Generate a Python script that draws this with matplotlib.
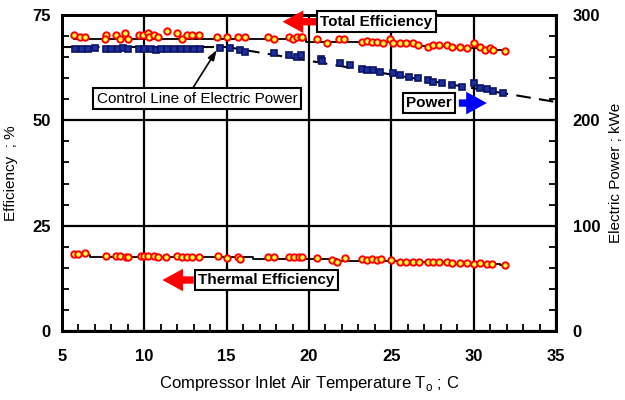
import numpy as np
import matplotlib
matplotlib.use("Agg")
import matplotlib.pyplot as plt
from matplotlib.ticker import MultipleLocator

plt.rcParams['font.family'] = ['Liberation Sans', 'DejaVu Sans']
plt.rcParams['mathtext.fontset'] = 'custom'
plt.rcParams['mathtext.rm'] = 'Liberation Sans'

# total efficiency (%)
tot_x = [5.7, 6.1, 6.4, 7.7, 7.6, 8.3, 8.5, 8.8, 9.0, 9.7, 9.9, 10.2, 10.3, 10.6, 10.8,
         11.4, 12.0, 12.3, 12.6, 12.9, 13.3, 14.4, 15.0, 15.7, 16.1, 17.5, 17.9, 18.8,
         19.0, 19.3, 19.5, 19.6, 20.5, 21.1, 21.8, 22.1, 23.2, 23.5, 23.8, 24.1, 24.5,
         24.9, 25.1, 25.5, 25.9, 26.3, 26.6, 27.2, 27.5, 27.9, 28.4, 28.7, 29.2, 29.6,
         30.0, 30.4, 30.7, 31.0, 31.2, 31.9]
tot_y = [70.3, 69.8, 69.8, 70.3, 69.3, 70.3, 69.3, 70.7, 69.3, 70.3, 70.3, 70.7, 69.8,
         70.3, 69.8, 71.2, 70.7, 69.3, 70.3, 70.3, 70.3, 69.8, 69.8, 69.8, 69.8, 69.8,
         69.3, 69.8, 69.3, 69.8, 69.8, 69.8, 69.3, 68.3, 69.3, 69.3, 68.6, 68.8, 68.6,
         68.6, 68.3, 69.3, 68.3, 68.3, 68.3, 68.3, 67.8, 67.4, 67.8, 67.8, 67.8, 67.4,
         67.4, 67.1, 68.3, 67.4, 66.6, 67.1, 66.6, 66.4]
tot_line_x = [5.7, 19.8, 24.9, 26.7, 28.6, 30.4, 31.9]
tot_line_y = [69.3, 68.7, 68.3, 67.6, 67.2, 66.6, 66.6]

# thermal efficiency (%)
th_x = [5.7, 6.0, 6.4, 7.7, 8.3, 8.5, 8.9, 9.0, 9.8, 10.0, 10.2, 10.6, 10.8, 11.3, 12.0,
        12.3, 12.6, 12.9, 13.3, 14.5, 15.0, 15.7, 15.8, 17.5, 17.9, 18.8, 19.1, 19.4,
        19.6, 20.5, 21.4, 21.7, 22.2, 23.2, 23.5, 23.8, 24.1, 24.4, 25.0, 25.5, 25.9,
        26.3, 26.7, 27.2, 27.5, 27.9, 28.4, 28.7, 29.2, 29.6, 30.0, 30.4, 30.8, 31.1, 31.9]
th_y = [18.3, 18.3, 18.5, 17.8, 17.8, 17.8, 17.6, 17.6, 17.8, 17.8, 17.8, 17.8, 17.6,
        17.6, 17.8, 17.6, 17.6, 17.6, 17.6, 17.8, 17.3, 17.6, 17.1, 17.6, 17.6, 17.6,
        17.6, 17.6, 17.6, 17.3, 16.9, 16.4, 17.3, 17.1, 16.9, 17.1, 16.9, 17.1, 16.9,
        16.4, 16.4, 16.4, 16.4, 16.4, 16.4, 16.4, 16.4, 16.2, 16.2, 16.2, 15.9, 16.2,
        15.9, 15.9, 15.7]
th_line_x = [5.7, 6.7, 16.6, 21.7, 25.5, 28.7, 31.6, 31.9]
th_line_y = [18.0, 17.5, 17.0, 16.7, 16.3, 15.9, 15.7, 15.7]

# electric power (kWe)
pw_x = [5.8, 6.2, 6.6, 7.0, 7.7, 8.0, 8.4, 8.7, 9.0, 9.7, 10.0, 10.4, 10.7, 11.0, 11.4,
        11.8, 12.2, 12.6, 13.0, 13.4, 14.6, 15.2, 15.8, 16.1, 17.9, 18.8, 19.3, 19.5,
        20.7, 20.8, 21.9, 22.5, 23.2, 23.5, 23.9, 24.3, 25.1, 25.5, 26.1, 26.6, 27.2,
        27.5, 28.1, 28.7, 29.3, 30.0, 30.4, 30.8, 31.2, 31.8]
pw_y = [268, 268, 268, 269, 268, 268, 268, 269, 268, 268, 268, 268, 267, 268, 268,
        268, 268, 268, 268, 268, 269, 269, 267, 265, 264, 262, 260.5, 262, 258, 256,
        254, 252.5, 249, 248, 248, 246, 244.6, 243, 241.5, 240, 238, 236.7, 235, 233.5,
        232, 235.7, 230.4, 229.4, 228, 225.7]
ctl_x = [5, 15, 35]
ctl_y = [269.6, 269.6, 217.4]

fig = plt.figure(figsize=(6.25, 4.0), dpi=100)
ax = fig.add_axes([0.0992, 0.1725, 0.7904, 0.79])
ax2 = ax.twinx()

ax.set_xlim(5, 35)
ax.set_ylim(0, 75)
ax2.set_ylim(0, 300)

ax.xaxis.set_major_locator(MultipleLocator(5))
ax.xaxis.set_minor_locator(MultipleLocator(1))
ax.yaxis.set_major_locator(MultipleLocator(25))
ax.yaxis.set_minor_locator(MultipleLocator(5))
ax2.yaxis.set_major_locator(MultipleLocator(100))
ax2.yaxis.set_minor_locator(MultipleLocator(20))

ax.grid(True, which='major', color='black', lw=1.6)
ax.set_axisbelow(True)

for a in (ax, ax2):
    for s in a.spines.values():
        s.set_linewidth(2)
ax.tick_params(which='both', direction='in', width=1.3, top=False)
ax.tick_params(which='major', length=0, labelsize=12)
ax.tick_params(axis='x', which='major', pad=13)
ax.tick_params(axis='y', which='major', pad=8)
ax.tick_params(which='minor', length=5)
ax2.tick_params(which='both', direction='in', width=1.3)
ax2.tick_params(which='major', length=0, labelsize=12, pad=12)
ax2.tick_params(which='minor', length=5)
for lab in ax.get_xticklabels() + ax.get_yticklabels() + ax2.get_yticklabels():
    lab.set_fontweight('bold')

# lines
ax.plot(tot_line_x, tot_line_y, drawstyle='steps-post', color='black', lw=1.3, zorder=3)
ax.plot(th_line_x, th_line_y, drawstyle='steps-post', color='black', lw=1.3, zorder=3)
ax2.plot(ctl_x, ctl_y, color='black', lw=1.5, ls=(0, (7, 4)), zorder=3)

# markers
ax.plot(tot_x, tot_y, 'o', ms=4.6, mfc='#ffff40', mec='red', mew=1.4, zorder=4)
ax.plot(th_x, th_y, 'o', ms=4.6, mfc='#ffff40', mec='red', mew=1.4, zorder=4)
ax2.plot(pw_x, pw_y, 's', ms=4.4, mfc='#1c2f9c', mec='#0d1466', mew=1.2, zorder=4)

# labels with arrows
box = dict(boxstyle='square,pad=0.22', fc='white', ec='black', lw=1.5)
ax2.set_zorder(1)
ax.patch.set_visible(False)
ax2.patch.set_visible(False)

def label(x, y, txt, weight='bold', size=11):
    ax2.text(x, y * 4, txt, ha='center', va='center', fontsize=size, fontweight=weight,
             bbox=box, zorder=10, clip_on=False)

def arrow(x0, y0, x1, y1, color):
    ax2.annotate('', xy=(x1, y1 * 4), xytext=(x0, y0 * 4),
                 arrowprops=dict(arrowstyle='simple,head_length=0.62,head_width=0.68,tail_width=0.22',
                                 color=color, lw=0, shrinkA=0, shrinkB=0, mutation_scale=24),
                 zorder=9)

label(24.1, 73.4, 'Total Efficiency')
arrow(20.5, 73.4, 18.4, 73.4, 'red')
label(27.3, 54.1, 'Power')
arrow(29.1, 54.1, 30.8, 54.1, 'blue')
label(17.4, 12.1, 'Thermal Efficiency')
arrow(13.0, 12.1, 11.1, 12.1, 'red')
ax2.annotate('', xy=(14.4, 66.7 * 4), xytext=(12.95, 57.7 * 4),
             arrowprops=dict(arrowstyle='-|>,head_length=0.6,head_width=0.2', color='black', lw=1.2,
                             shrinkA=0, shrinkB=0), zorder=9)
label(13.2, 55.1, 'Control Line of Electric Power', weight='normal', size=11)

ax.set_xlabel('Compressor Inlet Air Temperature T$_\\mathrm{o}$ ; C', fontsize=12, labelpad=7)
ax.set_ylabel('Efficiency  ; %', fontsize=11, labelpad=10)
ax2.set_ylabel('Electric Power ; kWe', fontsize=11, labelpad=6)

fig.savefig('out.png', dpi=100)
